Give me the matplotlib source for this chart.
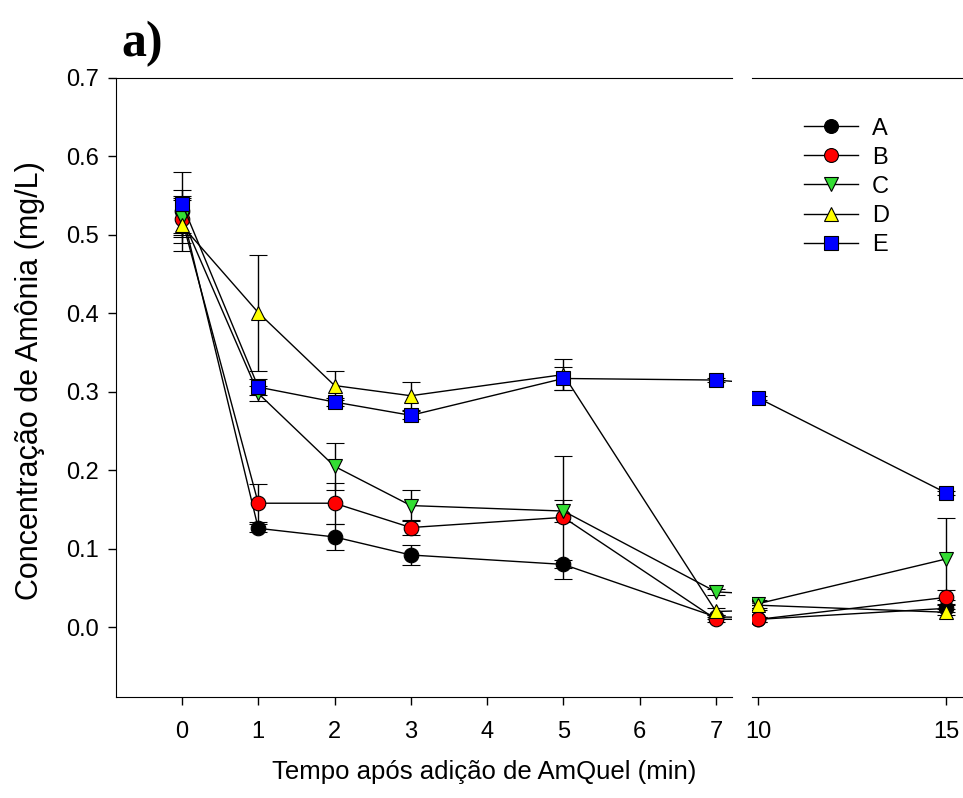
import numpy as np
import matplotlib
matplotlib.use("Agg")
import matplotlib.pyplot as plt
from matplotlib.lines import Line2D

plt.rcParams['font.family'] = ['Liberation Sans', 'DejaVu Sans']

# tempo (min)
tempo = [0, 1, 2, 3, 5, 7, 10, 15]

# concentração média de amônia (mg/L) por tratamento
serie_a = [0.530, 0.126, 0.115, 0.092, 0.080, 0.013, 0.010, 0.024]
serie_b = [0.520, 0.158, 0.158, 0.127, 0.140, 0.010, 0.010, 0.038]
serie_c = [0.522, 0.298, 0.205, 0.155, 0.148, 0.045, 0.030, 0.087]
serie_d = [0.512, 0.401, 0.308, 0.295, 0.322, 0.020, 0.028, 0.019]
serie_e = [0.540, 0.306, 0.287, 0.270, 0.317, 0.315, 0.292, 0.171]

# desvio padrão
erro_a = [0.027, 0.005, 0.017, 0.013, 0.005, 0.003, 0.003, 0.005]
erro_b = [0.030, 0.024, 0.026, 0.010, 0.078, 0.003, 0.003, 0.010]
erro_c = [0.025, 0.010, 0.030, 0.020, 0.014, 0.004, 0.005, 0.052]
erro_d = [0.032, 0.074, 0.019, 0.018, 0.020, 0.004, 0.006, 0.004]
erro_e = [0.040, 0.010, 0.005, 0.005, 0.015, 0.003, 0.003, 0.003]

nomes = ['A', 'B', 'C', 'D', 'E']
series = [serie_a, serie_b, serie_c, serie_d, serie_e]
erros = [erro_a, erro_b, erro_c, erro_d, erro_e]
marcadores = ['o', 'o', 'v', '^', 's']
cores = ['black', '#ff0000', '#33dd33', '#ffff00', '#0000ff']

W, H = 963, 798
fig = plt.figure(figsize=(W / 100, H / 100), dpi=100)

y0, y1 = 697, 78
ax1 = fig.add_axes([116 / W, 1 - y0 / H, (732 - 116) / W, (y0 - y1) / H])
ax2 = fig.add_axes([752 / W, 1 - y0 / H, (W - 752) / W + 0.01, (y0 - y1) / H])

for ax in (ax1, ax2):
    for nome, s, e, m, c in zip(nomes, series, erros, marcadores, cores):
        ax.errorbar(tempo, s, yerr=e, color='black', lw=1.0, capsize=6.5,
                    capthick=1.0, elinewidth=1.0, marker=m, markersize=10.5,
                    markerfacecolor=c, markeredgecolor='black',
                    markeredgewidth=0.8)
    ax.set_ylim(-0.089, 0.7)
    ax.spines['right'].set_visible(False)
    ax.tick_params(direction='out', length=6, width=1, labelsize=17)
    ax.tick_params(axis='x', pad=11)
    ax.tick_params(axis='y', pad=6)

ax1.set_xlim(-0.865, 7.21)
ax1.set_xticks([0, 1, 2, 3, 4, 5, 6, 7])
ax1.set_yticks(np.arange(0, 0.71, 0.1))
ax1.set_yticklabels([f'{v:.1f}' for v in np.arange(0, 0.71, 0.1)])

ax2.set_xlim(9.83, 15.7)
ax2.set_xticks([10, 15])
ax2.spines['left'].set_visible(False)
ax2.tick_params(axis='y', left=False, labelleft=False)

fig.text(30 / W, 1 - 381 / H, 'Concentração de Amônia (mg/L)', fontsize=22,
         rotation=90, ha='center', va='center')
fig.text(484 / W, 1 - 772 / H, 'Tempo após adição de AmQuel (min)',
         fontsize=18.5, ha='center', va='center')
fig.text(121 / W, 1 - 44 / H, 'a)', fontsize=36, fontweight='bold',
         family='Liberation Serif', ha='left', va='center')

handles = [Line2D([], [], color='black', lw=1.0, marker=m, markersize=10,
                  markerfacecolor=c, markeredgecolor='black', markeredgewidth=0.8)
           for m, c in zip(marcadores, cores)]
fig.legend(handles, nomes, loc='upper left', bbox_to_anchor=(787 / W, 1 - 101 / H),
           frameon=False, fontsize=17, handlelength=2.3, labelspacing=0.3,
           handletextpad=0.6, numpoints=1, borderpad=0.2)

fig.savefig('out.png', dpi=100)
